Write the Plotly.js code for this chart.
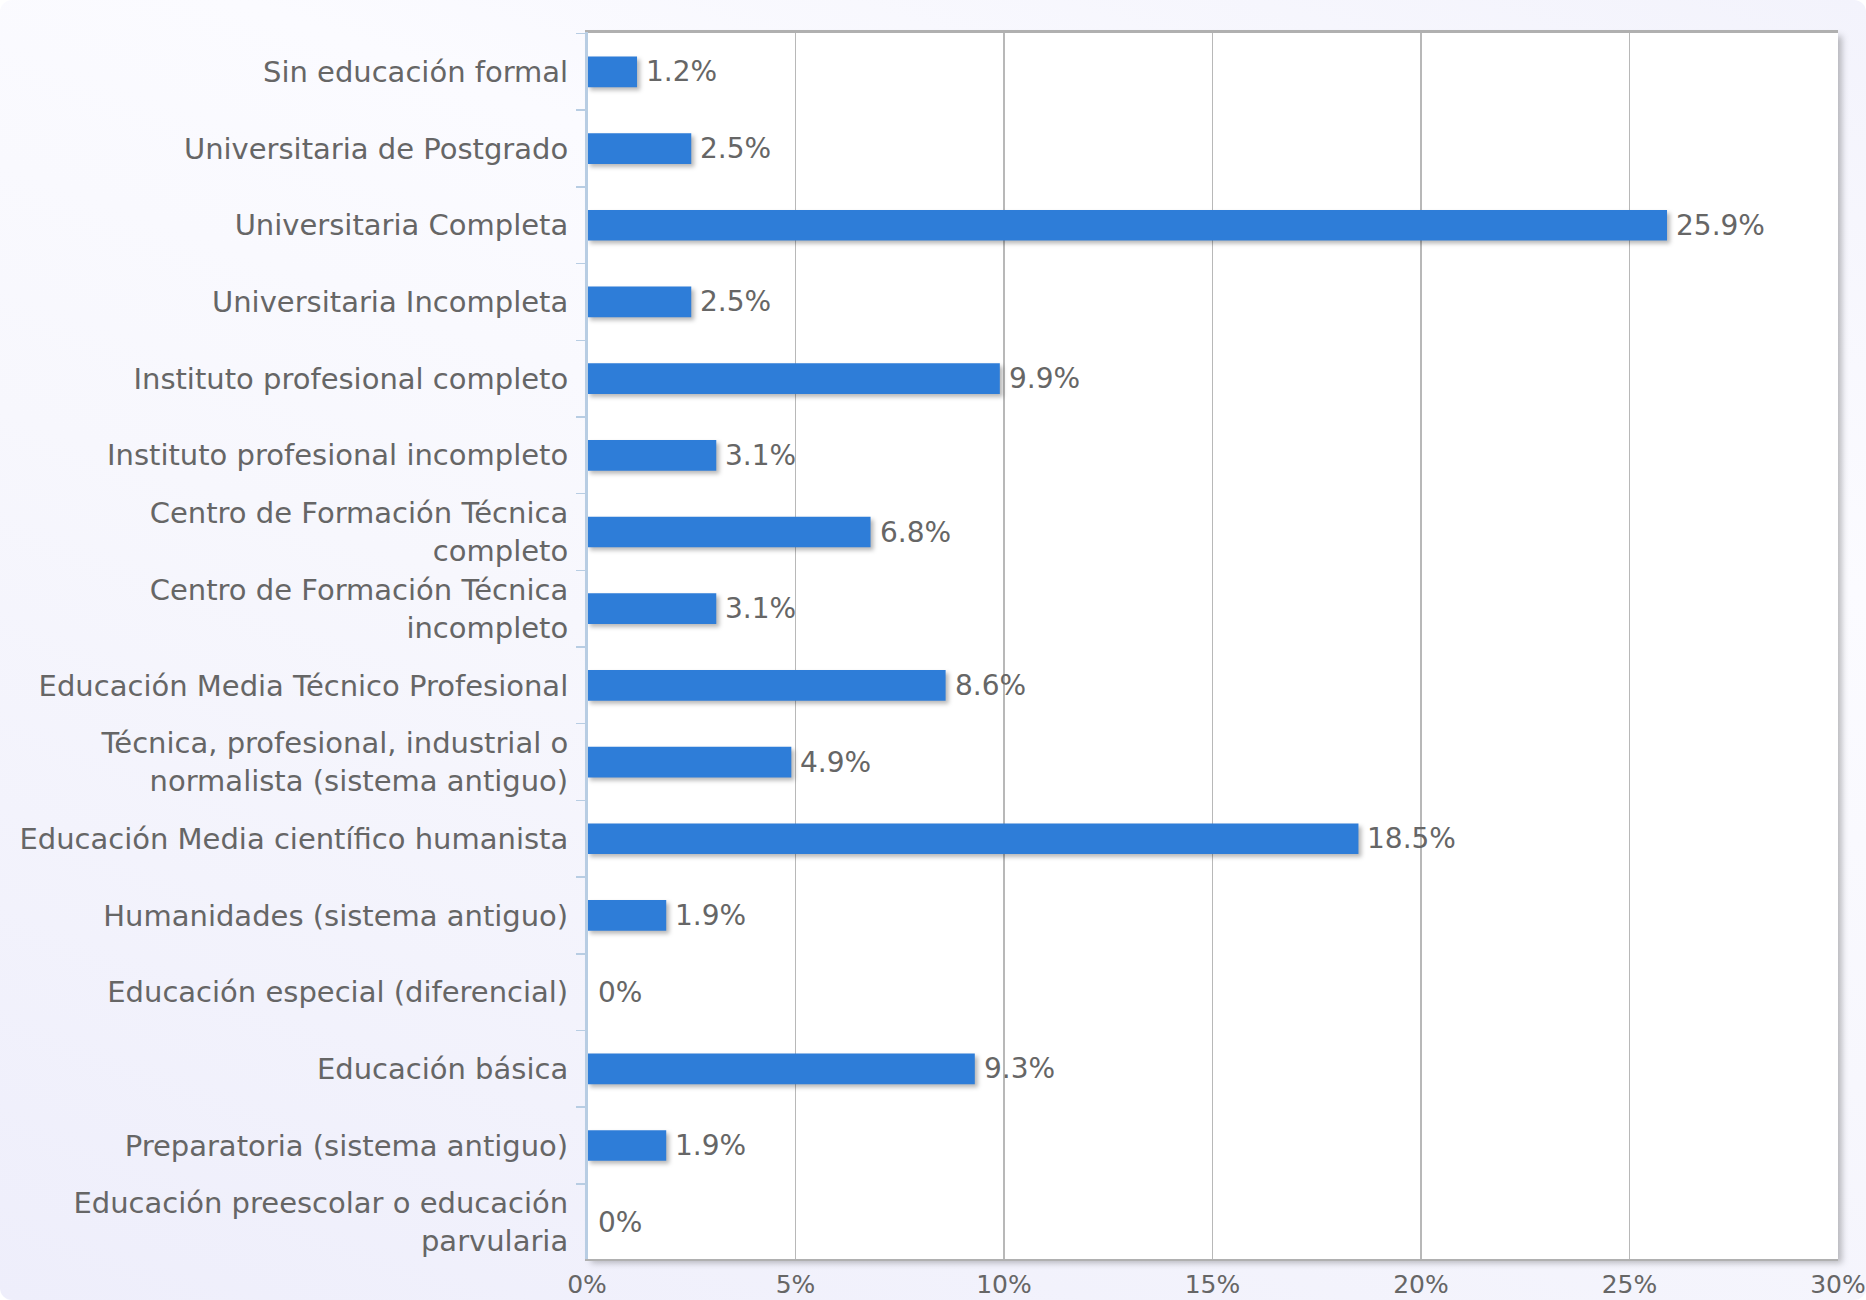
<!DOCTYPE html>
<html>
<head>
<meta charset="utf-8">
<script src="https://cdn.plot.ly/plotly-3.0.1.min.js"></script>
<style>
  html, body { margin: 0; padding: 0; background: #ffffff; }
  #wrap {
    width: 1866px; height: 1300px; border-radius: 12px; overflow: hidden;
    background: linear-gradient(20deg, #eeeefb 0%, #f7f7fd 45%, #fbfbff 70%, #f3f3fc 100%);
  }
  #chart { width: 1866px; height: 1300px; }
  .barlayer .bars path { filter: drop-shadow(3px 3px 2px rgba(0,0,0,0.28)); }
  .bglayer rect { filter: drop-shadow(4px 4px 3px rgba(0,0,0,0.25)); }
</style>
</head>
<body>
<div id="wrap"><div id="chart"></div></div>
<script>
const categories = [
  "Sin educación formal",
  "Universitaria de Postgrado",
  "Universitaria Completa",
  "Universitaria Incompleta",
  "Instituto profesional completo",
  "Instituto profesional incompleto",
  "Centro de Formación Técnica<br>completo",
  "Centro de Formación Técnica<br>incompleto",
  "Educación Media Técnico Profesional",
  "Técnica, profesional, industrial o<br>normalista (sistema antiguo)",
  "Educación Media científico humanista",
  "Humanidades (sistema antiguo)",
  "Educación especial (diferencial)",
  "Educación básica",
  "Preparatoria (sistema antiguo)",
  "Educación preescolar o educación<br>parvularia"
];
const values = [1.2, 2.5, 25.9, 2.5, 9.9, 3.1, 6.8, 3.1, 8.6, 4.9, 18.5, 1.9, 0, 9.3, 1.9, 0];
const valueLabels = values.map(v => (v === 0 ? "0" : v.toFixed(1)) + "%");
const xTickVals = [0, 5, 10, 15, 20, 25, 30];
const xTickText = ["0%", "5%", "10%", "15%", "20%", "25%", "30%"];

const font = "DejaVu Sans, sans-serif";
const textColor = "#666666";

const bars = {
  type: "bar",
  orientation: "h",
  x: values,
  y: categories,
  marker: { color: "#2e7dd8", line: { width: 0 } },
  hoverinfo: "none",
  showlegend: false
};

const annotations = values.map((v, i) => ({
  x: v, y: categories[i], xref: "x", yref: "y",
  text: valueLabels[i],
  showarrow: false,
  xanchor: "left", yanchor: "middle",
  xshift: v === 0 ? 9 : 7,
  font: { family: font, size: 28, color: textColor }
}));

const layout = {
  width: 1866, height: 1300,
  paper_bgcolor: "rgba(0,0,0,0)",
  plot_bgcolor: "#ffffff",
  margin: { l: 587, r: 28, t: 32, b: 41, pad: 0 },
  bargap: 0.6,
  font: { family: font, size: 28, color: textColor },
  annotations: annotations,
  xaxis: {
    range: [0, 30],
    tickvals: xTickVals,
    ticktext: xTickText,
    showgrid: true,
    gridcolor: "#b8b8b8",
    gridwidth: 1.5,
    zeroline: false,
    showline: true,
    linecolor: "#b0b0b0",
    linewidth: 2,
    mirror: true,
    ticks: "",
    ticklabelstandoff: 2,
    ticklabeloverflow: "allow",
    tickfont: { family: font, size: 25, color: textColor },
    fixedrange: true
  },
  yaxis: {
    type: "category",
    range: [15.48, -0.52],
    autorange: false,
    tickson: "boundaries",
    ticks: "outside",
    ticklen: 9,
    tickcolor: "#b8cde3",
    tickwidth: 1.5,
    showline: true,
    linecolor: "#b8cde3",
    linewidth: 2,
    showgrid: false,
    zeroline: false,
    ticklabelstandoff: 11,
    tickfont: { family: font, size: 29, color: textColor },
    fixedrange: true
  },
  shapes: [
    { type: "line", xref: "paper", yref: "paper", x0: 0, x1: 1, y0: 1, y1: 1,
      line: { color: "#b0b0b0", width: 2 } },
    { type: "line", xref: "paper", yref: "paper", x0: 0, x1: 0, y0: 0, y1: 1,
      line: { color: "#b8cde3", width: 2 } }
  ]
};

Plotly.newPlot("chart", [bars], layout, { displayModeBar: false, staticPlot: true });
</script>
</body>
</html>
